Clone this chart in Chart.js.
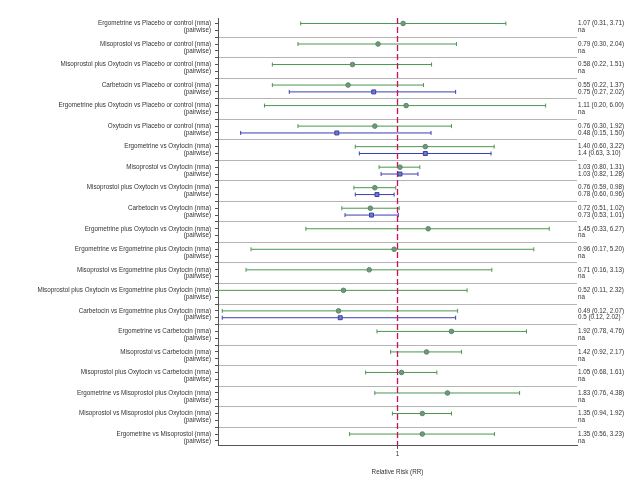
<!DOCTYPE html>
<html>
<head>
<meta charset="utf-8">
<script src="https://cdn.jsdelivr.net/npm/chart.js@4.4.1/dist/chart.umd.min.js"></script>
<style>
  html, body { margin: 0; padding: 0; background: #fff; }
  #wrap { width: 640px; height: 480px; }
</style>
</head>
<body>
<div id="wrap"><canvas id="forest" width="640" height="480"></canvas></div>
<script>
    const comparisons = [
        'Ergometrine vs Placebo or control',
        'Misoprostol vs Placebo or control',
        'Misoprostol plus Oxytocin vs Placebo or control',
        'Carbetocin vs Placebo or control',
        'Ergometrine plus Oxytocin vs Placebo or control',
        'Oxytocin vs Placebo or control',
        'Ergometrine vs Oxytocin',
        'Misoprostol vs Oxytocin',
        'Misoprostol plus Oxytocin vs Oxytocin',
        'Carbetocin vs Oxytocin',
        'Ergometrine plus Oxytocin vs Oxytocin',
        'Ergometrine vs Ergometrine plus Oxytocin',
        'Misoprostol vs Ergometrine plus Oxytocin',
        'Misoprostol plus Oxytocin vs Ergometrine plus Oxytocin',
        'Carbetocin vs Ergometrine plus Oxytocin',
        'Ergometrine vs Carbetocin',
        'Misoprostol vs Carbetocin',
        'Misoprostol plus Oxytocin vs Carbetocin',
        'Ergometrine vs Misoprostol plus Oxytocin',
        'Misoprostol vs Misoprostol plus Oxytocin',
        'Ergometrine vs Misoprostol'
    ];

    // network meta-analysis estimates (RR, 95% CI)
    const nmaEst  = [1.07, 0.79, 0.58, 0.55, 1.11, 0.76, 1.40, 1.03, 0.76, 0.72, 1.45, 0.96, 0.71, 0.52, 0.49, 1.92, 1.42, 1.05, 1.83, 1.35, 1.35];
    const nmaLow  = [0.31, 0.30, 0.22, 0.22, 0.20, 0.30, 0.60, 0.80, 0.59, 0.51, 0.33, 0.17, 0.16, 0.11, 0.12, 0.78, 0.92, 0.68, 0.76, 0.94, 0.56];
    const nmaHigh = [3.71, 2.04, 1.51, 1.37, 6.00, 1.92, 3.22, 1.31, 0.98, 1.02, 6.27, 5.20, 3.13, 2.32, 2.07, 4.76, 2.17, 1.61, 4.38, 1.92, 3.23];

    // pairwise estimates (null = na)
    const pwEst  = [null, null, null, 0.75, null, 0.48, 1.4, 1.03, 0.78, 0.73, null, null, null, null, 0.5, null, null, null, null, null, null];
    const pwLow  = [null, null, null, 0.27, null, 0.15, 0.63, 0.82, 0.60, 0.53, null, null, null, null, 0.12, null, null, null, null, null, null];
    const pwHigh = [null, null, null, 2.02, null, 1.50, 3.10, 1.28, 0.96, 1.01, null, null, null, null, 2.02, null, null, null, null, null, null];

    const xTicks = [1];
    const xTitle = 'Relative Risk (RR)';

    const GREEN = '#4a9650';
    const BLUE = '#3b3fb0';
    const FONT = { family: '"Liberation Sans", Arial, sans-serif', size: 6.3 };
    const Y_MIN = 0.2, Y_MAX = 62.6;

    function nmaText(i) {
        return `${nmaEst[i].toFixed(2)} (${nmaLow[i].toFixed(2)}, ${nmaHigh[i].toFixed(2)})`;
    }
    function pwText(i) {
        if (pwEst[i] === null) return 'na';
        return `${pwEst[i]} (${pwLow[i].toFixed(2)}, ${pwHigh[i].toFixed(2)})`;
    }

    const datasets = [];

    // estimate markers first so they sit on top
    datasets.push({
        data: comparisons.map((c, i) => ({ x: nmaEst[i], y: 3 * i + 1 })),
        showLine: false,
        pointStyle: 'circle',
        pointRadius: 2.3,
        pointBackgroundColor: '#6f9a7a',
        pointBorderColor: '#5a8766',
        pointBorderWidth: 1
    });
    datasets.push({
        data: comparisons.map((c, i) => ({ x: pwEst[i], y: 3 * i + 2 })).filter(p => p.x !== null),
        showLine: false,
        pointStyle: 'rect',
        pointRadius: 2.8,
        pointBackgroundColor: '#6b7bc4',
        pointBorderColor: '#3b3fa8',
        pointBorderWidth: 1
    });

    // line of no effect
    datasets.push({
        data: [{ x: 1, y: Y_MIN }, { x: 1, y: Y_MAX }],
        showLine: true,
        borderColor: '#c8105a',
        backgroundColor: '#c8105a',
        borderWidth: 1.3,
        borderDash: [6, 3],
        pointRadius: 0
    });

    // confidence intervals with end caps
    comparisons.forEach((c, i) => {
        datasets.push({
            data: [{ x: nmaLow[i], y: 3 * i + 1 }, { x: nmaHigh[i], y: 3 * i + 1 }],
            borderColor: GREEN,
            borderWidth: 1,
            pointStyle: 'line',
            pointRotation: 90,
            pointRadius: 2,
            pointBorderColor: GREEN,
            pointBorderWidth: 1
        });
        if (pwEst[i] !== null) {
            datasets.push({
                data: [{ x: pwLow[i], y: 3 * i + 2 }, { x: pwHigh[i], y: 3 * i + 2 }],
                borderColor: BLUE,
                borderWidth: 1,
                pointStyle: 'line',
                pointRotation: 90,
                pointRadius: 2,
                pointBorderColor: BLUE,
                pointBorderWidth: 1
            });
        }
    });

    // one tick per slot: nma row, pairwise row, separator
    function slotTicks() {
        return Array.from({ length: 62 }, (_, k) => ({ value: k + 1 }));
    }

    const ctx = document.getElementById('forest').getContext('2d');
    new Chart(ctx, {
        type: 'line',
        data: { datasets: datasets },
        options: {
            responsive: false,
            animation: false,
            layout: { padding: { top: 18, left: 0, right: 0, bottom: 0 } },
            plugins: { legend: { display: false }, tooltip: { enabled: false } },
            elements: { line: { tension: 0 } },
            scales: {
                x: {
                    type: 'logarithmic',
                    min: 0.114,
                    max: 8.77,
                    afterBuildTicks: axis => { axis.ticks = xTicks.map(v => ({ value: v })); },
                    afterFit: axis => { axis.height = 35; },
                    ticks: {
                        autoSkip: false,
                        maxRotation: 0,
                        padding: 1,
                        color: '#333',
                        font: FONT,
                        callback: v => String(v)
                    },
                    grid: { drawOnChartArea: false, color: '#555', tickLength: 4 },
                    border: { color: '#555', width: 1 },
                    title: { display: true, text: xTitle, color: '#333', font: FONT, padding: { top: 3 } }
                },
                y: {
                    type: 'linear',
                    position: 'left',
                    reverse: true,
                    min: Y_MIN,
                    max: Y_MAX,
                    afterBuildTicks: axis => { axis.ticks = slotTicks(); },
                    afterFit: axis => { axis.width = 218; },
                    ticks: {
                        autoSkip: false,
                        padding: 4,
                        color: '#333',
                        font: FONT,
                        callback: v => {
                            if (v % 3 === 1) return comparisons[(v - 1) / 3] + ' (nma)';
                            if (v % 3 === 2) return '(pairwise)';
                            return '';
                        }
                    },
                    grid: {
                        color: c => (c.tick && c.tick.value % 3 === 0) ? '#b4b4b4' : 'transparent',
                        tickColor: '#555',
                        tickLength: 3
                    },
                    border: { color: '#555', width: 1 }
                },
                y2: {
                    type: 'linear',
                    position: 'right',
                    reverse: true,
                    min: Y_MIN,
                    max: Y_MAX,
                    afterBuildTicks: axis => { axis.ticks = slotTicks(); },
                    afterFit: axis => { axis.width = 63; },
                    ticks: {
                        autoSkip: false,
                        padding: 1,
                        color: '#333',
                        font: FONT,
                        callback: v => {
                            if (v % 3 === 1) return nmaText((v - 1) / 3);
                            if (v % 3 === 2) return pwText((v - 2) / 3);
                            return '';
                        }
                    },
                    grid: { display: false, drawTicks: false },
                    border: { display: false }
                }
            }
        }
    });
</script>
</body>
</html>
